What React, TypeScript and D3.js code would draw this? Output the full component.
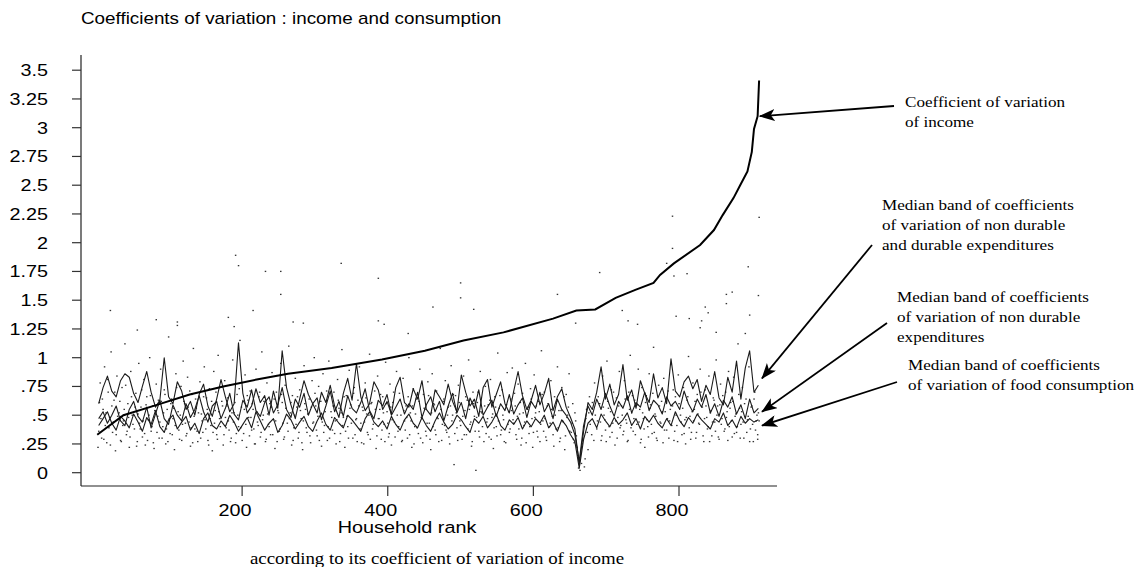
import { useEffect, useRef } from 'react';
import * as d3 from 'd3';

// axis ticks
const yTicks = [0, 0.25, 0.5, 0.75, 1, 1.25, 1.5, 1.75, 2, 2.25, 2.5, 2.75, 3, 3.25, 3.5];
const yTickLabels = ['0', '.25', '.5', '.75', '1', '1.25', '1.5', '1.75', '2', '2.25', '2.5', '2.75', '3', '3.25', '3.5'];
const xTicks = [200, 400, 600, 800];

// coefficient of variation of income, households sorted by it (rank, value)
const incomeRank = [1, 37, 83, 128, 174, 220, 263, 323, 392, 451, 504, 559, 627, 659, 685, 713, 740, 765, 774, 793, 829, 848, 860, 875, 884, 894, 900, 903, 908, 910];
const incomeCv = [0.33, 0.5, 0.59, 0.68, 0.75, 0.81, 0.86, 0.91, 0.985, 1.06, 1.15, 1.22, 1.34, 1.41, 1.42, 1.52, 1.59, 1.65, 1.72, 1.82, 1.98, 2.11, 2.24, 2.39, 2.5, 2.62, 2.79, 2.99, 3.1, 3.41];

// median bands (band width 6 households, first midpoint at rank 3)
const bandStart = 3;
const bandWidth = 6;
const bandDurable = [
  0.60, 0.74, 0.84, 0.71, 0.66, 0.80, 0.86, 0.83, 0.69, 0.61,
  0.75, 0.88, 0.70, 0.57, 0.63, 1.00, 0.66, 0.60, 0.79, 0.71,
  0.55, 0.62, 0.50, 0.68, 0.77, 0.58, 0.49, 0.64, 0.81, 0.66,
  0.53, 0.60, 1.13, 0.69, 0.52, 0.58, 0.73, 0.61, 0.67, 0.50,
  0.71, 0.56, 1.06, 0.74, 0.59, 0.47, 0.64, 0.80, 0.68, 0.60,
  0.52, 0.70, 0.61, 0.76, 0.58, 0.48, 0.69, 0.82, 0.63, 0.95,
  0.66, 0.54, 0.60, 0.79, 0.72, 0.55, 0.62, 0.51, 0.74, 0.83,
  0.61, 0.57, 0.73, 0.64, 0.80, 0.55, 0.50, 0.72, 0.66, 0.59,
  0.77, 0.62, 0.53, 0.85, 0.70, 0.58, 0.64, 0.49, 0.74, 0.81,
  0.57, 0.68, 0.79, 0.60, 0.52, 0.71, 0.88, 0.67, 0.55, 0.63,
  0.76, 0.59, 0.69, 0.82, 0.54, 0.66, 0.73, 0.57, 0.48, 0.38,
  0.07, 0.36, 0.61, 0.55, 0.70, 0.92, 0.64, 0.77, 0.59, 0.68,
  0.94, 0.63, 0.72, 0.56, 0.80, 0.69, 0.61, 0.86, 0.65, 0.74,
  0.60, 0.99, 0.71, 0.66, 0.79, 0.84, 0.73, 0.81, 0.62, 0.76,
  0.68, 0.88, 0.65, 0.59, 0.83, 0.70, 0.97, 0.64, 0.91, 1.06,
  0.70, 0.76,
];
const bandNonDurable = [
  0.47, 0.53, 0.43, 0.50, 0.58, 0.45, 0.41, 0.55, 0.62, 0.49,
  0.44, 0.57, 0.39, 0.51, 0.63, 0.47, 0.42, 0.59, 0.50, 0.45,
  0.60, 0.48, 0.55, 0.67, 0.53, 0.44, 0.58, 0.62, 0.47, 0.56,
  0.69, 0.51, 0.46, 0.63, 0.57, 0.72, 0.54, 0.49, 0.61, 0.66,
  0.52, 0.59, 0.74, 0.55, 0.48, 0.64, 0.57, 0.69, 0.50, 0.60,
  0.65, 0.46, 0.58, 0.71, 0.53, 0.62, 0.49, 0.67, 0.56, 0.52,
  0.61, 0.73, 0.54, 0.47, 0.63, 0.58, 0.68, 0.50, 0.57, 0.64,
  0.51, 0.60, 0.55, 0.70, 0.48, 0.59, 0.66, 0.53, 0.62, 0.45,
  0.58, 0.69, 0.52, 0.61, 0.47, 0.65, 0.56, 0.72, 0.50, 0.57,
  0.63, 0.49, 0.60, 0.54, 0.68, 0.51, 0.59, 0.65, 0.48, 0.62,
  0.56, 0.70, 0.53, 0.60, 0.47, 0.64, 0.55, 0.50, 0.44, 0.33,
  0.10, 0.41, 0.58, 0.50, 0.64, 0.55, 0.69, 0.58, 0.49, 0.62,
  0.56, 0.67, 0.52, 0.61, 0.57, 0.70, 0.54, 0.63, 0.59, 0.51,
  0.66, 0.58, 0.62, 0.55, 0.71, 0.60, 0.53, 0.64, 0.57, 0.68,
  0.52, 0.60, 0.49, 0.63, 0.57, 0.66, 0.51, 0.59, 0.47, 0.64,
  0.52, 0.56,
];
const bandFood = [
  0.41, 0.47, 0.53, 0.43, 0.37, 0.49, 0.45, 0.39, 0.51, 0.44,
  0.36, 0.48, 0.42, 0.54, 0.40, 0.35, 0.46, 0.50, 0.38, 0.44,
  0.49, 0.37, 0.43, 0.34, 0.47, 0.52, 0.41, 0.38, 0.45, 0.40,
  0.50, 0.44, 0.36, 0.42, 0.48, 0.39, 0.53, 0.45, 0.37, 0.43,
  0.47, 0.35, 0.41, 0.51, 0.46, 0.38, 0.44, 0.49, 0.40, 0.36,
  0.45, 0.52, 0.42, 0.37, 0.48, 0.43, 0.39, 0.50, 0.46, 0.41,
  0.36, 0.47, 0.53, 0.44, 0.40, 0.45, 0.38, 0.49, 0.42, 0.37,
  0.46, 0.51, 0.43, 0.39, 0.48, 0.41, 0.36, 0.45, 0.52, 0.44,
  0.38, 0.42, 0.50, 0.46, 0.40, 0.35, 0.47, 0.43, 0.49, 0.39,
  0.44, 0.51, 0.41, 0.37, 0.46, 0.42, 0.48, 0.38, 0.45, 0.40,
  0.47, 0.43, 0.50, 0.39, 0.44, 0.36, 0.46, 0.41, 0.33, 0.27,
  0.04, 0.29, 0.43, 0.47, 0.39, 0.51, 0.45, 0.40, 0.48, 0.42,
  0.46, 0.52, 0.41, 0.47, 0.38, 0.49, 0.44, 0.50, 0.43, 0.39,
  0.47, 0.41, 0.53, 0.45, 0.40, 0.48, 0.43, 0.51, 0.46, 0.42,
  0.38, 0.47, 0.44, 0.52, 0.41, 0.46, 0.39, 0.49, 0.43, 0.47,
  0.44, 0.46,
];

// individual household coefficients (rank, value)
const householdDots: [number, number][] = [
  [2,.22],[4,.61],[5,.78],[7,.30],[9,.55],[11,.92],[12,.41],[14,.26],[16,.70],[18,.48],[20,1.05],[22,.35],[24,.63],[26,.19],[28,.84],
  [31,.52],[33,.28],[35,.74],[37,.45],[39,1.12],[41,.33],[43,.60],[45,.22],[47,.88],[49,.50],[52,.38],[54,.69],[56,.27],[58,.95],[59,.43],
  [61,.57],[63,.31],[65,.81],[67,.24],[69,.66],[71,.46],[73,1.00],[75,.36],[77,.58],[79,.21],[82,.77],[84,.49],[86,.30],[88,.90],[89,.62],
  [91,.40],[93,.72],[95,.25],[97,.55],[99,1.18],[101,.34],[103,.64],[105,.47],[107,.20],[109,.86],[112,.53],[114,.29],[116,.75],[118,.42],[119,.97],
  [121,.60],[123,.32],[125,.83],[127,.44],[129,.23],[131,.68],[133,1.08],[135,.38],[137,.56],[139,.27],[142,.79],[144,.51],[146,.35],[148,.92],[149,.46],
  [151,.65],[153,.28],[155,.73],[157,.41],[159,.19],[161,.88],[163,.54],[165,.33],[167,1.02],[169,.47],[172,.62],[174,.24],[176,.80],[178,.39],[179,.58],
  [181,.45],[183,.76],[185,.30],[187,.98],[189,.52],[191,.26],[193,.68],[195,.40],[197,1.15],[199,.57],[202,.34],[204,.85],[206,.22],[208,.63],[209,.48],
  [211,.71],[213,.37],[215,.55],[217,.25],[219,.90],[221,.44],[223,.66],[225,.31],[227,1.05],[229,.50],[232,.27],[234,.78],[236,.42],[238,.60],[239,.33],
  [241,.87],[243,.46],[245,.21],[247,.70],[249,.54],[251,.36],[253,.95],[255,.61],[257,.29],[259,.76],[262,.43],[264,1.10],[266,.52],[268,.24],[269,.67],
  [271,.39],[273,.82],[275,.57],[277,.30],[279,.72],[281,.47],[283,.20],[285,.93],[287,.55],[289,.35],[292,.64],[294,.26],[296,.80],[298,.44],[299,1.00],
  [301,.58],[303,.32],[305,.75],[307,.49],[309,.23],[311,.86],[313,.41],[315,.62],[317,.28],[319,.97],[322,.53],[324,.37],[326,.70],[328,.45],[329,.25],
  [331,.81],[333,.56],[335,.34],[337,1.07],[339,.48],[341,.22],[343,.67],[345,.40],[347,.89],[349,.59],[352,.30],[354,.74],[356,.46],[358,.27],[359,.63],
  [361,.92],[363,.43],[365,.57],[367,.25],[369,.78],[371,.51],[373,.33],[375,1.03],[377,.60],[379,.38],[382,.71],[384,.21],[386,.84],[388,.47],[389,.55],
  [391,.29],[393,.66],[395,.42],[397,.96],[399,.53],[401,.31],[403,.77],[405,.24],[407,.61],[409,.44],[412,.88],[414,.36],[416,.69],[418,.50],[419,.27],
  [421,.82],[423,.45],[425,.58],[427,.30],[429,1.00],[431,.52],[433,.22],[435,.73],[437,.40],[439,.64],[442,.34],[444,.90],[446,.48],[448,.26],[449,.68],
  [451,.55],[453,.32],[455,.79],[457,.43],[459,.20],[461,.86],[463,.60],[465,.37],[467,.71],[469,.47],[472,1.08],[474,.28],[476,.62],[478,.41],[479,.80],
  [481,.35],[483,.57],[485,.25],[487,.93],[489,.50],[491,.07],[493,.67],[495,.39],[497,.76],[499,.45],[502,.29],[504,.84],[506,.54],[508,.33],[509,.63],
  [511,.98],[513,.42],[515,.23],[517,.70],[519,.49],[521,.02],[523,.61],[525,.36],[527,.88],[529,.52],[532,.27],[534,.75],[536,.44],[538,.59],[539,.31],
  [541,.81],[543,.48],[545,.21],[547,.66],[549,.40],[551,1.04],[553,.56],[555,.33],[557,.72],[559,.46],[562,.26],[564,.87],[566,.53],[568,.38],[569,.64],
  [571,.91],[573,.43],[575,.58],[577,.29],[579,.77],[581,.51],[583,.24],[585,.69],[587,.41],[589,.95],[592,.55],[594,.34],[596,.73],[598,.47],[599,.22],
  [601,.85],[603,.52],[605,.36],[607,.62],[609,.27],[611,1.06],[613,.45],[615,.70],[617,.31],[619,.58],[622,.40],[624,.80],[626,.49],[628,.23],[629,.66],
  [631,.38],[633,.92],[635,.54],[637,.30],[639,.74],[641,.44],[643,.20],[645,.68],[647,.50],[649,.86],[652,.35],[654,.60],[656,.26],[658,.45],[659,.32],
  [661,.15],[662,.04],[663,.10],[664,.02],[665,.18],[666,.08],[667,.25],[669,.40],[671,.12],[673,.55],[675,.20],[677,.66],[680,.33],[684,.78],[688,.45],
  [691,.60],[693,.28],[695,.84],[697,.50],[699,.37],[701,.97],[703,.56],[705,.31],[707,.72],[709,.43],[712,.24],[714,.65],[716,.48],[718,.88],[719,.39],
  [721,.58],[723,.33],[725,.80],[727,.46],[729,.27],[731,.70],[733,1.02],[735,.52],[737,.36],[739,.63],[742,.42],[744,.90],[746,.55],[748,.29],[749,.74],
  [751,.47],[753,.22],[755,.67],[757,.40],[759,.86],[761,.59],[763,.34],[765,1.09],[767,.51],[769,.30],[772,.76],[774,.44],[776,.62],[778,.26],[779,.82],
  [781,.53],[783,.37],[785,.71],[787,.45],[789,.94],[791,.58],[793,.28],[795,.66],[797,.41],[799,.85],[802,.50],[804,.33],[806,.74],[808,.46],[809,.25],
  [811,.63],[813,1.01],[815,.49],[817,.35],[819,.78],[821,.55],[823,.30],[825,.68],[827,.43],[829,.90],[832,.57],[834,.27],[836,.72],[838,.48],[839,.38],
  [841,.84],[843,.52],[845,.32],[847,.65],[849,.44],[851,.98],[853,.58],[855,.29],[857,.77],[859,.47],[862,.36],[864,.70],[866,.53],[868,.88],[869,.40],
  [871,.61],[873,.31],[875,.83],[877,.49],[879,.35],[881,1.12],[883,.56],[885,.42],[887,.74],[889,.30],[892,.64],[894,.46],[896,.92],[898,.38],[900,.58],
  [902,.27],[904,.70],[906,.45],[908,.33],[909,.52],
];
const householdDotsMid: [number, number][] = [
  [3,.36],[6,.47],[8,.64],[10,.29],[13,.52],[15,.81],[17,.39],[19,.24],[21,.58],[23,.44],
  [25,.70],[27,.33],[29,.49],[32,.62],[34,.27],[36,.41],[38,.55],[40,.76],[42,.36],[44,.48],
  [46,.31],[48,.66],[50,.42],[53,.57],[55,.23],[57,.51],[60,.38],[62,.72],[64,.45],[66,.34],
  [68,.59],[70,.28],[72,.50],[74,.67],[76,.40],[78,.26],[80,.54],[83,.35],[85,.63],[87,.44],
  [90,.30],[92,.52],[94,.68],[96,.38],[98,.27],[100,.47],[102,.60],[104,.33],[106,.56],[108,.41],
  [110,.74],[113,.37],[115,.50],[117,.28],[120,.62],[122,.43],[124,.34],[126,.57],[128,.71],[130,.39],
  [132,.26],[134,.49],[136,.64],[138,.36],[140,.52],[143,.30],[145,.45],[147,.66],[150,.38],[152,.55],
  [154,.24],[156,.47],[158,.62],[160,.35],[162,.43],[164,.70],[166,.29],[168,.53],[170,.40],[173,.58],
  [175,.33],[177,.48],[180,.65],[182,.37],[184,.27],[186,.52],[188,.44],[190,.61],[192,.34],[194,.50],
  [196,.73],[198,.39],[200,.28],[203,.55],[205,.42],[207,.67],[210,.32],[212,.48],[214,.60],[216,.38],
  [218,.25],[220,.53],[222,.41],[224,.70],[226,.35],[228,.46],[230,.62],[233,.29],[235,.51],[237,.40],
  [240,.57],[242,.33],[244,.64],[246,.45],[248,.27],[250,.52],[252,.38],[254,.68],[256,.43],[258,.31],
  [260,.56],[263,.36],[265,.47],[267,.61],[270,.28],[272,.50],[274,.42],[276,.66],[278,.35],[280,.54],
  [282,.26],[284,.45],[286,.60],[288,.39],[290,.51],[293,.32],[295,.57],[297,.43],[300,.69],[302,.37],
  [304,.49],[306,.28],[308,.62],[310,.44],[312,.35],[314,.53],[316,.71],[318,.40],[320,.30],[323,.48],
  [325,.58],[327,.34],[330,.46],[332,.63],[334,.27],[336,.52],[338,.41],[340,.66],[342,.36],[344,.49],
  [346,.30],[348,.56],[350,.43],[353,.69],[355,.33],[357,.47],[360,.58],[362,.38],[364,.26],[366,.54],
  [368,.44],[370,.65],[372,.35],[374,.50],[376,.29],[378,.61],[380,.42],[383,.55],[385,.32],[387,.47],
  [390,.68],[392,.37],[394,.52],[396,.27],[398,.60],[400,.43],[402,.34],[404,.57],[406,.46],[408,.70],
  [410,.31],[413,.50],[415,.40],[417,.63],[420,.28],[422,.54],[424,.37],[426,.48],[428,.66],[430,.33],
  [432,.45],[434,.58],[436,.25],[438,.51],[440,.39],[443,.62],[445,.30],[447,.47],[450,.56],[452,.36],
  [454,.43],[456,.67],[458,.29],[460,.52],[462,.40],[464,.59],[466,.33],[468,.48],[470,.27],[473,.55],
  [475,.42],[477,.64],[480,.37],[482,.50],[484,.31],[486,.58],[488,.45],[490,.68],[492,.34],[494,.52],
  [496,.28],[498,.61],[500,.41],[503,.49],[505,.33],[507,.66],[510,.38],[512,.55],[514,.44],[516,.27],
  [518,.60],[520,.36],[522,.48],[524,.70],[526,.31],[528,.53],[530,.40],[533,.58],[535,.34],[537,.47],
  [540,.63],[542,.29],[544,.51],[546,.39],[548,.57],[550,.32],[552,.45],[554,.67],[556,.37],[558,.50],
  [560,.27],[563,.59],[565,.42],[567,.35],[570,.54],[572,.46],[574,.69],[576,.33],[578,.49],[580,.38],
  [582,.61],[584,.30],[586,.52],[588,.44],[590,.26],[593,.57],[595,.40],[597,.64],[600,.35],[602,.48],
  [604,.58],[606,.31],[608,.53],[610,.42],[612,.68],[614,.36],[616,.47],[618,.28],[620,.60],[623,.43],
  [625,.55],[627,.33],[630,.50],[632,.62],[634,.39],[636,.27],[638,.54],[640,.45],[642,.66],[644,.32],
  [646,.48],[648,.57],[650,.36],[653,.43],[655,.29],[657,.52],[660,.22],[668,.30],[670,.05],[672,.47],
  [674,.35],[676,.52],[678,.42],[681,.61],[683,.28],[685,.50],[687,.38],[689,.66],[692,.44],[694,.32],
  [696,.57],[698,.46],[700,.27],[702,.62],[704,.40],[706,.53],[708,.35],[710,.70],[713,.45],[715,.30],
  [717,.58],[720,.41],[722,.50],[724,.36],[726,.64],[728,.43],[730,.28],[732,.55],[734,.39],[736,.67],
  [738,.47],[740,.33],[743,.59],[745,.44],[747,.26],[750,.52],[752,.38],[754,.61],[756,.46],[758,.31],
  [760,.56],[762,.42],[764,.69],[766,.35],[768,.49],[770,.28],[773,.58],[775,.43],[777,.53],[780,.37],
  [782,.64],[784,.47],[786,.30],[788,.55],[790,.41],[792,.72],[794,.36],[796,.50],[798,.27],[800,.60],
  [803,.44],[805,.56],[807,.34],[810,.48],[812,.66],[814,.39],[816,.29],[818,.53],[820,.45],[822,.62],
  [824,.35],[826,.51],[828,.42],[830,.70],[833,.32],[835,.47],[837,.58],[840,.40],[842,.27],[844,.54],
  [846,.44],[848,.63],[850,.36],[852,.50],[854,.31],[856,.59],[858,.42],[860,.67],[863,.38],[865,.48],
  [867,.28],[870,.56],[872,.45],[874,.62],[876,.34],[878,.51],[880,.40],[882,.68],[884,.30],[886,.53],
  [888,.44],[890,.60],[893,.35],[895,.49],[897,.27],[899,.57],[901,.42],[903,.64],[905,.37],[907,.50],
  [908,.29],[910,.45],
];
const outlierDots: [number, number][] = [
  [191,1.89],[195,1.80],[232,1.75],[253,1.75],[253,1.55],[336,1.82],[387,1.69],[500,1.65],[500,1.52],[518,1.42],
  [462,1.44],[19,1.41],[82,1.33],[111,1.31],[111,1.28],[56,1.24],[215,1.41],[181,1.35],[189,1.27],[270,1.31],
  [284,1.30],[387,1.32],[395,1.29],[428,1.21],[633,1.55],[658,1.30],[691,1.74],[722,1.41],[730,1.32],[743,1.29],
  [791,2.23],[791,1.95],[783,1.82],[793,1.71],[811,1.73],[796,1.36],[814,1.34],[831,1.32],[836,1.44],[840,1.39],
  [865,1.55],[873,1.57],[865,1.47],[895,1.79],[910,2.22],[909,1.54],[897,1.37],[891,1.21],[851,1.22],[829,1.26],
];

// annotations: text lines and the point (rank, value) each arrow points at
const annoLines = [
  ['Coefficient of variation', 'of income'],
  ['Median band of coefficients', 'of variation of non durable', 'and durable expenditures'],
  ['Median band of coefficients', 'of variation of non durable', 'expenditures'],
  ['Median band of coefficients', 'of variation of food consumption'],
];
const annoTarget = [[911, 3.1], [914, 0.82], [914, 0.53], [914, 0.41]];

const SANS = '"Liberation Sans", Arial, Helvetica, sans-serif';
const SERIF = '"Liberation Serif", "Times New Roman", serif';
// the original graph is a little wider than tall, text is stretched with it
const STRETCH = 1.2;

export default function App() {
  const svgRef = useRef<SVGSVGElement>(null);

  useEffect(() => {
    const svg = d3.select(svgRef.current);
    svg.selectAll('*').remove();

    const x = d3.scaleLinear().domain([0, 800]).range([96.5, 679]);
    const y = d3.scaleLinear().domain([0, 3.5]).range([472.7, 70.2]);
    const axisLeftX = 81;
    const axisBottomY = 486;

    const label = (px: number, py: number, str: string, font: string, size: number, anchor = 'start', sx = STRETCH) =>
      svg.append('text')
        .attr('transform', `translate(${px},${py}) scale(${sx},1)`)
        .attr('text-anchor', anchor)
        .style('font-family', font)
        .style('font-size', `${size}px`)
        .text(str);

    // arrow head
    svg.append('defs').append('marker')
      .attr('id', 'head')
      .attr('viewBox', '0 0 16 12')
      .attr('refX', 15)
      .attr('refY', 6)
      .attr('markerUnits', 'userSpaceOnUse')
      .attr('markerWidth', 16)
      .attr('markerHeight', 12)
      .attr('orient', 'auto')
      .append('path')
      .attr('d', 'M0,0 L16,6 L0,12 L4,6 Z')
      .attr('fill', '#000');

    // title
    label(81, 24, 'Coefficients of variation : income and consumption', SANS, 15.7);

    // axes
    svg.append('line')
      .attr('x1', axisLeftX).attr('x2', axisLeftX)
      .attr('y1', 55).attr('y2', axisBottomY)
      .attr('stroke', '#222').attr('stroke-width', 1.2);
    svg.append('line')
      .attr('x1', axisLeftX).attr('x2', 777)
      .attr('y1', axisBottomY).attr('y2', axisBottomY)
      .attr('stroke', '#222').attr('stroke-width', 1.2);

    yTicks.forEach((t, i) => {
      svg.append('line')
        .attr('x1', 72).attr('x2', axisLeftX)
        .attr('y1', y(t)).attr('y2', y(t))
        .attr('stroke', '#333').attr('stroke-width', 1.2);
      label(48, y(t) + 6, yTickLabels[i], SANS, 16.5, 'end');
    });

    xTicks.forEach(t => {
      svg.append('line')
        .attr('x1', x(t)).attr('x2', x(t))
        .attr('y1', axisBottomY).attr('y2', axisBottomY + 10)
        .attr('stroke', '#333').attr('stroke-width', 1.2);
      label(x(t) - 7, 516, String(t), SANS, 16.5, 'middle');
    });
    label(407, 533, 'Household rank', SANS, 16.5, 'middle');
    label(437, 564, 'according to its coefficient of variation of income', SERIF, 16, 'middle', 1.18);

    // scatter of household coefficients
    svg.append('g')
      .selectAll('rect')
      .data([...householdDots, ...householdDotsMid, ...outlierDots])
      .enter()
      .append('rect')
      .attr('x', d => x(d[0]) - 0.7)
      .attr('y', d => y(d[1]) - 0.7)
      .attr('width', 1.5)
      .attr('height', 1.3)
      .attr('fill', '#333');

    // median bands
    const bandLine = d3.line<number>()
      .x((d, i) => x(bandStart + i * bandWidth))
      .y(d => y(d));
    [bandDurable, bandNonDurable, bandFood].forEach(band => {
      svg.append('path')
        .datum(band)
        .attr('fill', 'none')
        .attr('stroke', '#1a1a1a')
        .attr('stroke-width', 1.1)
        .attr('stroke-linejoin', 'round')
        .attr('d', bandLine);
    });

    // income line
    const incomeLine = d3.line<number>()
      .x((d, i) => x(incomeRank[i]))
      .y(d => y(d));
    svg.append('path')
      .datum(incomeCv)
      .attr('fill', 'none')
      .attr('stroke', '#000')
      .attr('stroke-width', 2)
      .attr('d', incomeLine);

    // annotations
    const annoPos = [
      { tx: 905, ty: 107, ax: 894, ay: 106 },
      { tx: 882, ty: 210, ax: 872, ay: 245 },
      { tx: 897, ty: 302, ax: 887, ay: 323 },
      { tx: 908, ty: 370, ax: 897, ay: 382 },
    ];
    annoLines.forEach((lines, i) => {
      const p = annoPos[i];
      lines.forEach((l, j) => {
        label(p.tx, p.ty + j * 20, l, SERIF, 14.5, 'start', 1.18);
      });
      svg.append('line')
        .attr('x1', p.ax).attr('y1', p.ay)
        .attr('x2', x(annoTarget[i][0])).attr('y2', y(annoTarget[i][1]))
        .attr('stroke', '#000').attr('stroke-width', 1.8)
        .attr('marker-end', 'url(#head)');
    });
  }, []);

  return (
    <svg
      ref={svgRef}
      width={1137}
      height={567}
      style={{ position: 'absolute', left: 0, top: 0, background: '#fff' }}
    />
  );
}
